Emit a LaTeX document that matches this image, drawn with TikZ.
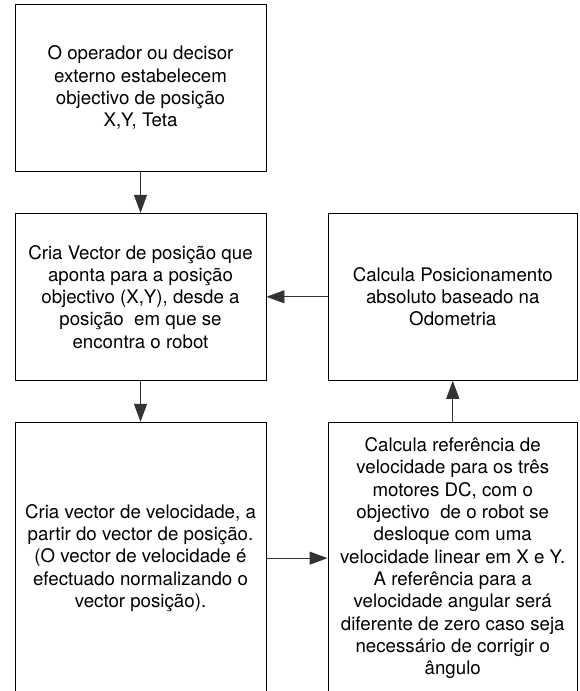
\documentclass[tikz,border=0pt]{standalone}
\usepackage{fontspec}
\setmainfont{TeX Gyre Heros}
\usetikzlibrary{arrows.meta}
\begin{document}
\begin{tikzpicture}[x=1pt,y=-1pt,
  box/.style={draw=black, line width=0.9pt, align=center, inner sep=0pt,
    font=\fontsize{18.7}{22.3}\selectfont},
  conn/.style={draw=black!80, line width=0.9pt, -{Triangle[length=18pt,width=13pt]}}]
\useasboundingbox (0,0) rectangle (579,691);
\clip (0,0) rectangle (579,691);
\node[box, minimum width=251pt, minimum height=167.5pt] (b1) at (140.5,87.75)
  {O operador ou decisor\\externo estabelecem\\objectivo de posição\\X,Y, Teta};
\node[box, minimum width=251pt, minimum height=167pt] (b2) at (140.5,296.8)
  {Cria Vector de posição que\\aponta para a posição\\objectivo (X,Y), desde a\\posição~ em que se\\encontra o robot};
\node[box, minimum width=249.5pt, minimum height=167pt] (b3) at (452.75,296.8)
  {Calcula Posicionamento\\absoluto baseado na\\Odometria};
\node[box, minimum width=251pt, minimum height=271.7pt] (b4) at (140.5,558.15)
  {Cria vector de velocidade, a\\partir do vector de posição.\\(O vector de velocidade é\\efectuado normalizando o\\vector posição).};
\node[box, minimum width=249.5pt, minimum height=271.7pt] (b5) at (452.75,558.15)
  {Calcula referência de\\velocidade para os três\\motores DC, com o\\objectivo~ de o robot se\\desloque com uma\\velocidade linear em X e Y.\\A referência para a\\velocidade angular será\\diferente de zero caso seja\\necessário de corrigir o\\ângulo};
\draw[conn] (b1) -- (b2);
\draw[conn] (b3) -- (b2);
\draw[conn] (b2) -- (b4);
\draw[conn] (b5) -- (b3);
\draw[conn] (b4) -- (b5);
\end{tikzpicture}
\end{document}
